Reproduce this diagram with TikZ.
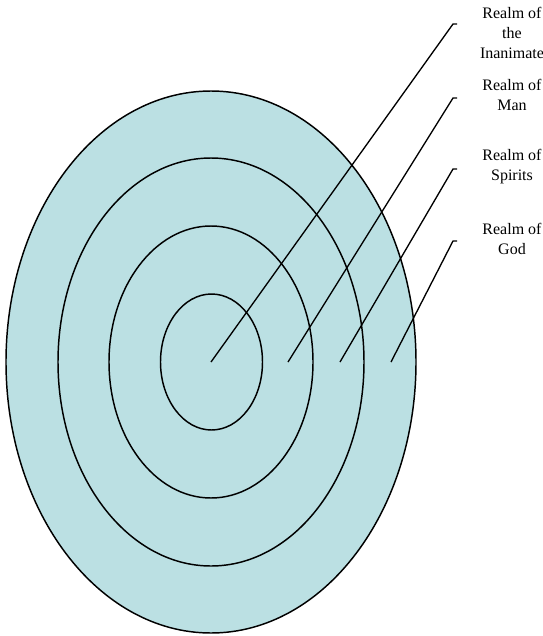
\documentclass[tikz,border=0pt]{standalone}
\usepackage{fontspec}
\setmainfont{Liberation Serif}
\definecolor{ringfill}{HTML}{BBE0E3}
\begin{document}
\begin{tikzpicture}[x=0.75pt,y=-0.75pt,
  ring/.style={draw=black,fill=ringfill,line width=1.1pt},
  leader/.style={draw=black,line width=1pt},
  realm/.style={font=\fontsize{12}{15}\selectfont,align=center,anchor=north,inner sep=0pt}]
\useasboundingbox (0,0) rectangle (543,636);
\path[ring] (211,362) ellipse [x radius=205, y radius=271];
\path[ring] (211,362) ellipse [x radius=153, y radius=204];
\path[ring] (211,362) ellipse [x radius=102, y radius=136];
\path[ring] (211.5,362) ellipse [x radius=51, y radius=68];
\coordinate (s1) at (211,362);
\coordinate (s2) at (288,362);
\coordinate (s3) at (340,362);
\coordinate (s4) at (391,362);
\coordinate (c1) at (453,24);
\coordinate (c2) at (453,98);
\coordinate (c3) at (453,169);
\coordinate (c4) at (453,241);
\coordinate (e1) at (457,24);
\coordinate (e2) at (457,98);
\coordinate (e3) at (457,169);
\coordinate (e4) at (457,241);
\draw[leader] (s1) -- (c1) -- (e1);
\draw[leader] (s2) -- (c2) -- (e2);
\draw[leader] (s3) -- (c3) -- (e3);
\draw[leader] (s4) -- (c4) -- (e4);
\node[realm] (l1) at (512,7) {Realm of\\the\\Inanimate};
\node[realm] (l2) at (512,79) {Realm of\\Man};
\node[realm] (l3) at (512,149) {Realm of\\Spirits};
\node[realm] (l4) at (512,223) {Realm of\\God};
\end{tikzpicture}
\end{document}
